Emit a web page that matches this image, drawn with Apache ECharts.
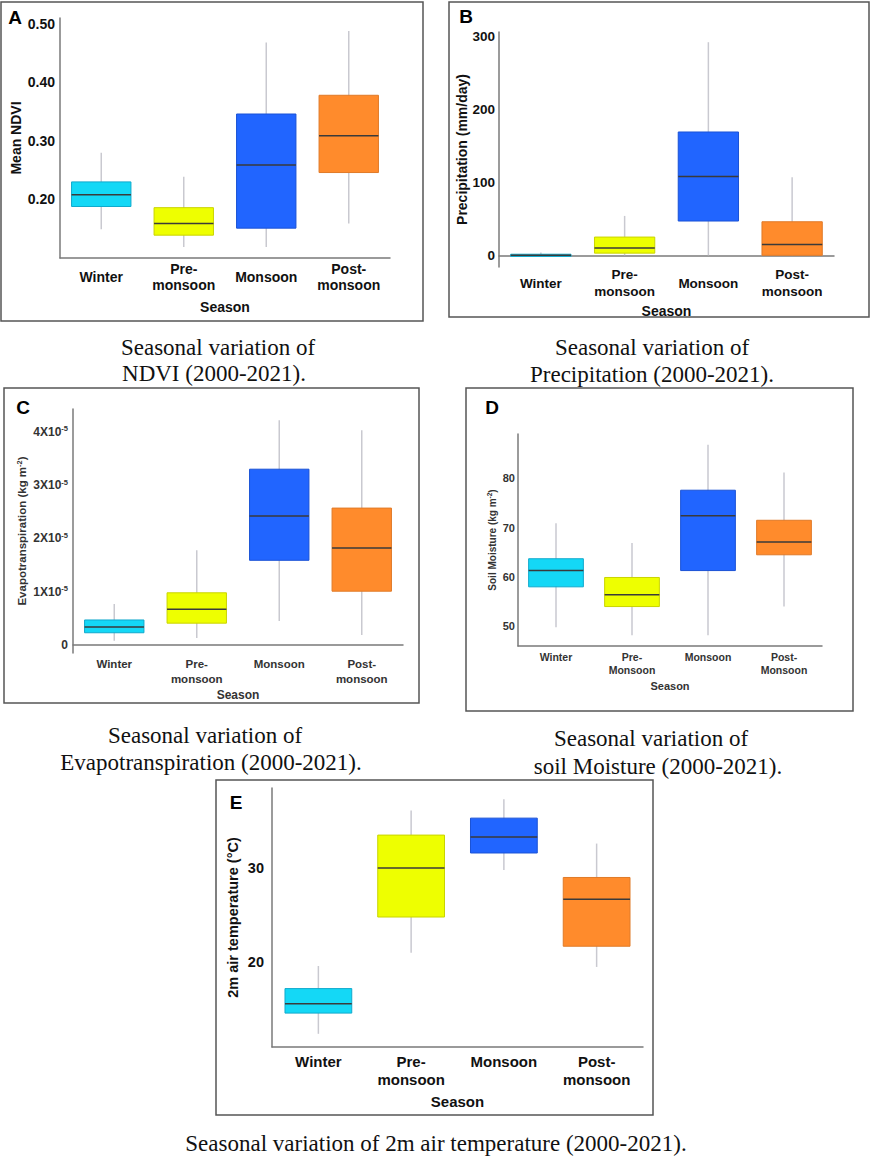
<!DOCTYPE html>
<html>
<head>
<meta charset="utf-8">
<script src="https://cdn.jsdelivr.net/npm/echarts@6/dist/echarts.min.js"></script>
<style>
html,body{margin:0;padding:0;background:#fff;}
#c{width:872px;height:1161px;}
</style>
</head>
<body>
<div id="c"></div>
<script>
// ---------- DATA ----------
// each stats row: [whiskerLow, Q1, median, Q3, whiskerHigh]
const seasons  = ['Winter', 'Pre-\nmonsoon', 'Monsoon', 'Post-\nmonsoon'];
const seasonsD = ['Winter', 'Pre-\nMonsoon', 'Monsoon', 'Post-\nMonsoon'];

const ndviStats = [
  [0.149, 0.188, 0.208, 0.230, 0.280],
  [0.119, 0.139, 0.159, 0.186, 0.239],
  [0.119, 0.151, 0.259, 0.346, 0.468],
  [0.159, 0.246, 0.309, 0.378, 0.488]
];
const precipStats = [
  [-1.5, -1.5, 0, 1.5, 4],
  [0, 3, 10, 25, 54],
  [0, 47, 108, 169, 292],
  [0, 0, 15, 46, 107]
];
// evapotranspiration in units of 1e-5 kg m^-2
const etStats = [
  [0.08, 0.23, 0.34, 0.47, 0.77],
  [0.13, 0.41, 0.67, 0.98, 1.78],
  [0.45, 1.59, 2.42, 3.30, 4.22],
  [0.19, 1.01, 1.82, 2.57, 4.03]
];
const soilStats = [
  [49.8, 58.0, 61.3, 63.7, 70.9],
  [48.2, 54.0, 56.4, 59.9, 66.9],
  [48.2, 61.3, 72.4, 77.6, 86.8],
  [54.0, 64.5, 67.1, 71.5, 81.2]
];
const tempStats = [
  [12.4, 14.6, 15.6, 17.2, 19.6],
  [21.0, 24.8, 30.0, 33.5, 36.1],
  [29.8, 31.6, 33.3, 35.3, 37.3],
  [19.5, 21.7, 26.7, 29.0, 32.6]
];

const ndviTicks   = [0.2, 0.3, 0.4, 0.5];
const ndviLabels  = ['0.20', '0.30', '0.40', '0.50'];
const precipTicks = [0, 100, 200, 300];
const precipLabels= ['0', '100', '200', '300'];
const etTicks     = [0, 1, 2, 3, 4];
const etLabels    = ['{b|0}', '{b|1X10}{s|-5}', '{b|2X10}{s|-5}', '{b|3X10}{s|-5}', '{b|4X10}{s|-5}'];
const soilTicks   = [50, 60, 70, 80];
const soilLabels  = ['50', '60', '70', '80'];
const tempTicks   = [20, 30];
const tempLabels  = ['20', '30'];

// ---------- STYLE ----------
const FONT = 'Liberation Sans, Arial, sans-serif';
const SERIF = 'Liberation Serif, Times New Roman, serif';
const fillColors   = ['#14d8f6', '#eeff00', '#2165ff', '#ff8b2c'];
const borderColors = ['#10a9cc', '#c9d400', '#1a52d6', '#e07a28'];

function tickFormatter(ticks, labels) {
  return function (v) {
    for (let i = 0; i < ticks.length; i++) {
      if (Math.abs(v - ticks[i]) < 1e-7) return labels[i];
    }
    return '';
  };
}

function renderBox(params, api) {
  const idx = api.value(0);
  const pLow = api.coord([idx, api.value(1)]);
  const pQ1 = api.coord([idx, api.value(2)]);
  const pMed = api.coord([idx, api.value(3)]);
  const pQ3 = api.coord([idx, api.value(4)]);
  const pHigh = api.coord([idx, api.value(5)]);
  const bw = api.size([1, 0])[0] * 0.72;
  const cx = pMed[0];
  return {
    type: 'group',
    children: [
      { type: 'line', shape: { x1: cx, y1: pLow[1], x2: cx, y2: pHigh[1] },
        style: { stroke: '#c9c9d0', lineWidth: 1.5 } },
      { type: 'rect', shape: { x: cx - bw / 2, y: pQ3[1], width: bw, height: pQ1[1] - pQ3[1] },
        style: { fill: fillColors[idx], stroke: borderColors[idx], lineWidth: 1 } },
      { type: 'line', shape: { x1: cx - bw / 2, y1: pMed[1], x2: cx + bw / 2, y2: pMed[1] },
        style: { stroke: '#3a3a3a', lineWidth: 1.5 } }
    ]
  };
}

// layout per panel
const panels = [
  { cats: seasons, stats: ndviStats, grid: { left: 60, top: 18, width: 330, height: 240 },
    yMin: 0.1, yMax: 0.51, yInt: 0.1, ticks: ndviTicks, labels: ndviLabels,
    yName: 'Mean NDVI', yNameGap: 37, yFont: 14, yLabelMargin: 5, tickFont: 14, tickColor: '#111',
    xFont: 14, xLineH: 16, xAlign: 'middle', xMargin: 19, xName: 'Season', xNameGap: 42, xNameFont: 14 },
  { cats: seasons, stats: precipStats, grid: { left: 499, top: 32, width: 335, height: 235 },
    yMin: -16, yMax: 306, yInt: 4, ticks: precipTicks, labels: precipLabels,
    yName: 'Precipitation (mm/day)', yNameGap: 30, yFont: 14, yLabelMargin: 4, tickFont: 13.5, tickColor: '#111',
    xFont: 13.5, xLineH: 17, xAlign: 'middle', xMargin: 16, xName: 'Season', xNameGap: 37, xNameFont: 14 },
  { cats: seasons, stats: etStats, grid: { left: 73, top: 409, width: 330, height: 244 },
    yMin: -0.15, yMax: 4.43, yInt: 0.05, ticks: etTicks, labels: etLabels,
    yName: '{n|Evapotranspiration (kg m}{s|-2}{n|)}', yNameGap: 44, yFont: 11.5, yLabelMargin: 5, tickFont: 12, tickColor: '#333',
    xFont: 11.5, xLineH: 15, xAlign: 'top', xMargin: 3, xName: 'Season', xNameGap: 36, xNameFont: 12, rich: true },
  { cats: seasonsD, stats: soilStats, grid: { left: 518, top: 434, width: 304, height: 212 },
    yMin: 46, yMax: 89, yInt: 2, ticks: soilTicks, labels: soilLabels,
    yName: '{n|Soil Moisture (kg m}{s|-2}{n|)}', yNameGap: 20, yFont: 10, yLabelMargin: 3, tickFont: 11, tickColor: '#333',
    xFont: 10.5, xLineH: 13, xAlign: 'top', xMargin: 4, xName: 'Season', xNameGap: 34, xNameFont: 11, rich: true },
  { cats: seasons, stats: tempStats, grid: { left: 272, top: 788, width: 371, height: 259 },
    yMin: 11, yMax: 38.5, yInt: 1, ticks: tempTicks, labels: tempLabels,
    yName: '2m air temperature (°C)', yNameGap: 32, yFont: 14.5, yLabelMargin: 8, tickFont: 14.5, tickColor: '#111',
    xFont: 15, xLineH: 18, xAlign: 'top', xMargin: 5, xName: 'Season', xNameGap: 47, xNameFont: 15 }
];

const grids = [], xAxes = [], yAxes = [], series = [];
panels.forEach(function (p, i) {
  grids.push(p.grid);
  const axisLine = { show: true, lineStyle: { color: '#7a7a7a', width: 1.5 } };
  xAxes.push({
    type: 'category', gridIndex: i, data: p.cats, boundaryGap: true,
    axisLine: axisLine, axisTick: { show: false }, splitLine: { show: false },
    axisLabel: { interval: 0, fontFamily: FONT, fontWeight: 'bold', fontSize: p.xFont,
      lineHeight: p.xLineH, color: p.tickColor, margin: p.xMargin, verticalAlign: p.xAlign },
    name: p.xName, nameLocation: 'middle', nameGap: p.xNameGap,
    nameTextStyle: { fontFamily: FONT, fontWeight: 'bold', fontSize: p.xNameFont, color: p.tickColor }
  });
  const nameStyle = { fontFamily: FONT, fontWeight: 'bold', fontSize: p.yFont, color: p.tickColor };
  if (p.rich) {
    nameStyle.rich = {
      n: { fontFamily: FONT, fontWeight: 'bold', fontSize: p.yFont, color: p.tickColor, lineHeight: p.yFont + 2 },
      s: { fontFamily: FONT, fontWeight: 'bold', fontSize: p.yFont * 0.65, color: p.tickColor, verticalAlign: 'top', lineHeight: p.yFont * 0.65 }
    };
  }
  yAxes.push({
    type: 'value', gridIndex: i, min: p.yMin, max: p.yMax, interval: p.yInt,
    axisLine: axisLine, axisTick: { show: false }, splitLine: { show: false },
    axisLabel: { formatter: tickFormatter(p.ticks, p.labels), fontFamily: FONT, fontWeight: 'bold',
      fontSize: p.tickFont, color: p.tickColor, margin: p.yLabelMargin,
      rich: {
        b: { fontFamily: FONT, fontWeight: 'bold', fontSize: p.tickFont, color: p.tickColor, lineHeight: 14 },
        s: { fontFamily: FONT, fontWeight: 'bold', fontSize: 7.5, color: p.tickColor, verticalAlign: 'top', lineHeight: 8 }
      } },
    name: p.yName, nameLocation: 'middle', nameGap: p.yNameGap, nameRotate: 90,
    nameTextStyle: nameStyle
  });
  series.push({
    type: 'custom', xAxisIndex: i, yAxisIndex: i, renderItem: renderBox,
    encode: { x: 0, y: [1, 2, 3, 4, 5] },
    data: p.stats.map(function (s, k) { return [k].concat(s); }),
    silent: true
  });
});

function frame(x, y, w, h) {
  return { type: 'rect', silent: true, z: -1,
    shape: { x: x, y: y, width: w, height: h },
    style: { fill: 'none', stroke: '#555', lineWidth: 1.5 } };
}
function letter(t, x, y) {
  return { type: 'text', silent: true, x: x, y: y,
    style: { text: t, fontFamily: FONT, fontWeight: 'bold', fontSize: 19, fill: '#000',
      align: 'center', verticalAlign: 'middle' } };
}
function caption(t, x, y) {
  return { type: 'text', silent: true, x: x, y: y,
    style: { text: t, fontFamily: SERIF, fontSize: 23, fill: '#111',
      align: 'center', verticalAlign: 'middle' } };
}

const graphics = [
  frame(1, 2, 422, 319), frame(449, 2, 420, 315), frame(4, 388, 415, 315),
  frame(466, 388, 387, 323), frame(216, 780, 437, 335),
  letter('A', 15, 17), letter('B', 466, 16), letter('C', 23, 407),
  letter('D', 492, 407), letter('E', 236, 802),
  caption('Seasonal variation of', 218, 347), caption('NDVI (2000-2021).', 214, 373),
  caption('Seasonal variation of', 652, 347), caption('Precipitation (2000-2021).', 652, 374),
  caption('Seasonal variation of', 205, 735), caption('Evapotranspiration (2000-2021).', 211, 762),
  caption('Seasonal variation of', 651, 738), caption('soil Moisture (2000-2021).', 658, 766),
  caption('Seasonal variation of 2m air temperature (2000-2021).', 436, 1143)
];

const chart = echarts.init(document.getElementById('c'), null, { renderer: 'svg' });
chart.setOption({
  backgroundColor: '#fff',
  animation: false,
  grid: grids,
  xAxis: xAxes,
  yAxis: yAxes,
  series: series,
  graphic: graphics
});
</script>
</body>
</html>
